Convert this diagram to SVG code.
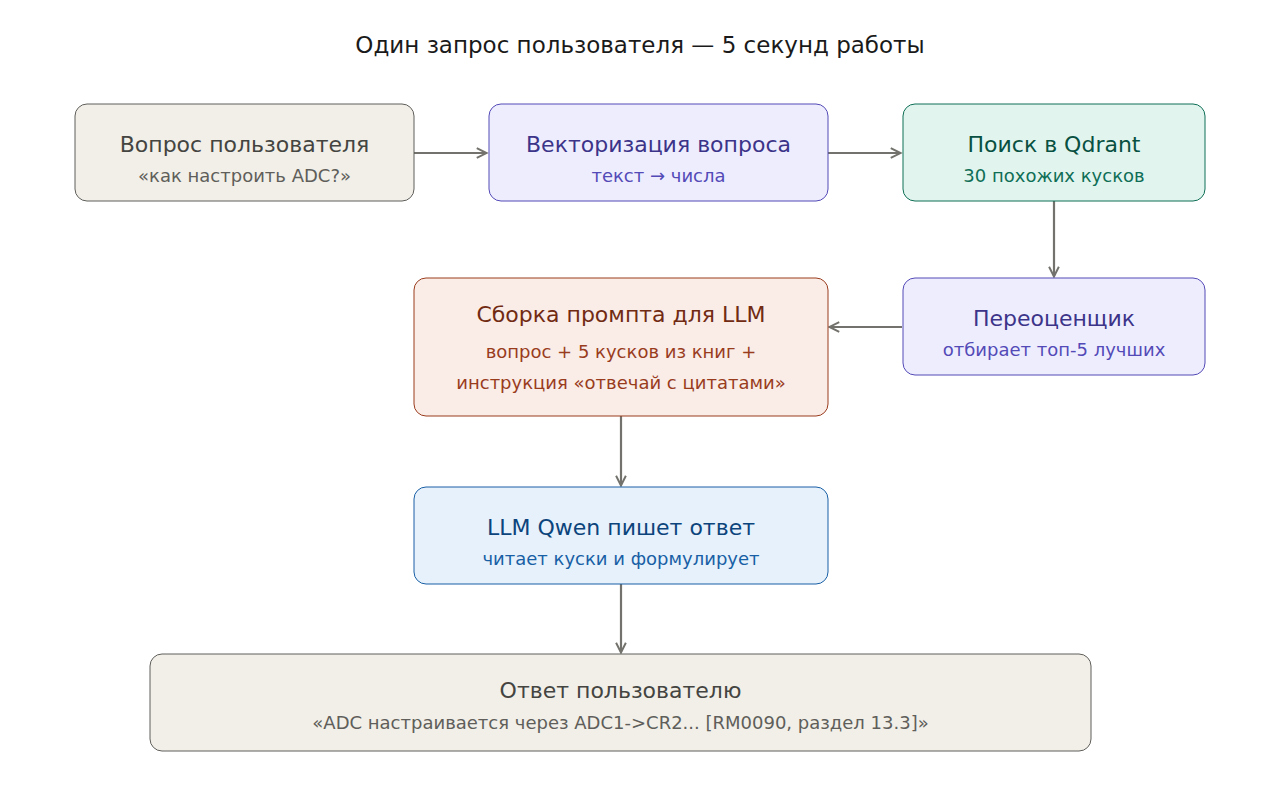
<svg xmlns="http://www.w3.org/2000/svg" width="1280" height="800" viewBox="0 0 1280 800">
<style>
text{font-family:"DejaVu Sans",sans-serif;text-anchor:middle}
.t{font-size:22px}.s{font-size:18px}
.c{stroke:#73726c;stroke-width:2.2;fill:none;marker-end:url(#a)}
.g rect{fill:#f1efe8;stroke:#5f5e5a}.g .t{fill:#444441}.g .s{fill:#5f5e5a}
.p rect{fill:#eeedfe;stroke:#534ab7}.p .t{fill:#3c3489}.p .s{fill:#534ab7}
.e rect{fill:#e1f5ee;stroke:#0f6e56}.e .t{fill:#085041}.e .s{fill:#0f6e56}
.o rect{fill:#faece7;stroke:#993c1d}.o .t{fill:#712b13}.o .s{fill:#993c1d}
.b rect{fill:#e6f1fb;stroke:#185fa5}.b .t{fill:#0c447c}.b .s{fill:#185fa5}
</style>
<defs><marker id="a" viewBox="0 0 10 10" refX="9" refY="5" markerWidth="7" markerHeight="7" orient="auto" markerUnits="userSpaceOnUse" overflow="visible"><path d="M0,0L10,5L0,10" fill="none" stroke="#73726c" stroke-width="2" transform="scale(1.4) translate(-3,-1.4)"/></marker></defs>
<rect width="1280" height="800" fill="#fff"/>
<text x="640" y="53" style="font-size:23px" fill="#1a1a1a">Один запрос пользователя — 5 секунд работы</text>
<g id="conn">
<path class="c" d="M414,153H486"/>
<path class="c" d="M828,153H900"/>
<path class="c" d="M1054,201V276"/>
<path class="c" d="M902,327H830"/>
<path class="c" d="M621,416V485"/>
<path class="c" d="M621,584V652"/>
</g>
<g id="n1" class="g"><rect x="75" y="104" width="339" height="97" rx="12"/><text class="t" x="244.5" y="152">Вопрос пользователя</text><text class="s" x="244.5" y="182">«как настроить ADC?»</text></g>
<g id="n2" class="p"><rect x="489" y="104" width="339" height="97" rx="12"/><text class="t" x="658.5" y="152">Векторизация вопроса</text><text class="s" x="658.5" y="182">текст → числа</text></g>
<g id="n3" class="e"><rect x="903" y="104" width="302" height="97" rx="12"/><text class="t" x="1054" y="152">Поиск в Qdrant</text><text class="s" x="1054" y="182">30 похожих кусков</text></g>
<g id="n4" class="p"><rect x="903" y="278" width="302" height="97" rx="12"/><text class="t" x="1054" y="326">Переоценщик</text><text class="s" x="1054" y="356">отбирает топ-5 лучших</text></g>
<g id="n5" class="o"><rect x="414" y="278" width="414" height="138" rx="12"/><text class="t" x="621" y="322">Сборка промпта для LLM</text><text class="s" x="621" y="358">вопрос + 5 кусков из книг +</text><text class="s" x="621" y="389">инструкция «отвечай с цитатами»</text></g>
<g id="n6" class="b"><rect x="414" y="487" width="414" height="97" rx="12"/><text class="t" x="621" y="535">LLM Qwen пишет ответ</text><text class="s" x="621" y="565">читает куски и формулирует</text></g>
<g id="n7" class="g"><rect x="150" y="654" width="941" height="97" rx="12"/><text class="t" x="620.5" y="698">Ответ пользователю</text><text class="s" x="620.5" y="729">«ADC настраивается через ADC1-&gt;CR2... [RM0090, раздел 13.3]»</text></g>
</svg>
